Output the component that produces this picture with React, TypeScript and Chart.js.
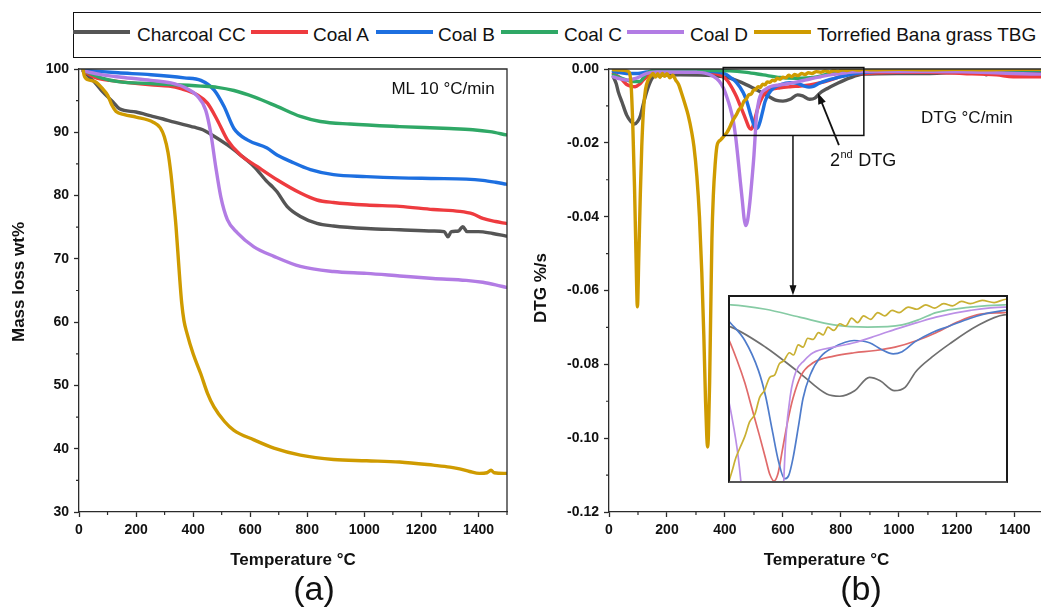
import React, { useEffect, useRef } from 'react';
import { Chart, registerables } from 'chart.js';

Chart.register(...registerables);

const FONT = '"Liberation Sans", Arial, Helvetica, sans-serif';
const AXIS = '#2b2b2b';
const TEXT = '#111111';

const seriesNames = ['Charcoal CC', 'Coal A', 'Coal B', 'Coal C', 'Coal D', 'Torrefied Bana grass TBG'];
const seriesColors = ['#555555', '#ee3b3f', '#1d6fe0', '#2fa866', '#b27ce4', '#cf9b00'];
const insetColors = ['#6f6f6f', '#e06a6a', '#4f7ccb', '#86cba4', '#bb8fe6', '#c9b032'];

// Axis ticks
const tempTicks = [0, 200, 400, 600, 800, 1000, 1200, 1400];
const tempMinor = [100, 300, 500, 700, 900, 1100, 1300, 1500];
const massTicks = [30, 40, 50, 60, 70, 80, 90, 100];
const massMinor = [35, 45, 55, 65, 75, 85, 95];
const dtgTicks = [-0.12, -0.1, -0.08, -0.06, -0.04, -0.02, 0];
const dtgMinor = [-0.11, -0.09, -0.07, -0.05, -0.03, -0.01];

type Pt = [number, number];

// Mass loss (wt%) versus temperature (°C)
const tgCharcoal: Pt[] = [
  [14, 99.8], [30, 99.0], [55, 97.9], [85, 96.3], [119, 94.8], [142, 93.7], [200, 93.2], [252, 92.6], [295, 92.1],
  [334, 91.6], [404, 90.8], [434, 90.4], [462, 89.7], [520, 88.0], [566, 86.4], [613, 84.6], [659, 82.2], [680, 81.3],
  [694, 80.6], [729, 78.3], [776, 76.7], [834, 75.6], [892, 75.2], [1008, 74.8], [1124, 74.6], [1241, 74.4],
  [1280, 74.3], [1293, 73.5], [1305, 74.3], [1330, 74.4], [1345, 75.1], [1360, 74.3], [1400, 74.3], [1450, 74.0],
  [1497, 73.6],
];
const tgCoalA: Pt[] = [
  [14, 99.7], [50, 98.8], [78, 98.4], [107, 98.2], [180, 97.8], [252, 97.5], [316, 97.3], [357, 96.9], [415, 95.9],
  [450, 94.6], [485, 91.9], [520, 88.8], [566, 86.4], [624, 84.6], [694, 82.5], [776, 80.4], [834, 79.3], [892, 78.9],
  [1008, 78.5], [1124, 78.3], [1241, 77.8], [1334, 77.5], [1380, 77.1], [1415, 76.4], [1460, 75.9], [1497, 75.6],
];
const tgCoalB: Pt[] = [
  [14, 99.8], [137, 99.4], [252, 99.1], [369, 98.6], [427, 98.2], [473, 96.7], [508, 94.1], [543, 90.6],
  [590, 88.8], [659, 87.5], [694, 86.4], [741, 85.4], [811, 84.1], [892, 83.3], [1008, 83.0], [1124, 82.8],
  [1241, 82.7], [1357, 82.6], [1415, 82.4], [1460, 82.1], [1497, 81.8],
];
const tgCoalC: Pt[] = [
  [14, 99.8], [78, 98.6], [137, 98.0], [252, 97.7], [427, 97.3], [485, 97.1], [543, 96.6], [613, 95.6],
  [694, 94.1], [776, 92.5], [846, 91.7], [950, 91.3], [1124, 90.9], [1299, 90.6], [1380, 90.4], [1440, 90.1],
  [1497, 89.6],
];
const tgCoalD: Pt[] = [
  [14, 99.7], [78, 99.1], [148, 98.7], [252, 98.2], [322, 97.8], [369, 97.1], [415, 95.7], [444, 93.5],
  [462, 89.8], [479, 84.6], [497, 79.8], [520, 76.2], [555, 74.1], [613, 71.9], [683, 70.4], [776, 68.8],
  [892, 68.0], [1008, 67.7], [1124, 67.3], [1241, 66.9], [1357, 66.6], [1415, 66.3], [1460, 65.9], [1497, 65.5],
];
const tgTBG: Pt[] = [
  [14, 100], [18, 99.0], [24, 98.5], [32, 98.3], [60, 97.9], [80, 97.0], [101, 95.8], [115, 94.3],
  [130, 93.3], [159, 92.8], [200, 92.4], [260, 91.6], [285, 90.7], [299, 89.3], [312, 86.8], [322, 83.5],
  [331, 79.5], [340, 75.1], [352, 67.5], [360, 63.0], [368, 60.2], [378, 58.3], [400, 55.0], [427, 51.8],
  [450, 48.8], [473, 46.6], [510, 44.3], [543, 42.9], [613, 41.4], [683, 40.1], [776, 39.0], [892, 38.3],
  [1008, 38.1], [1124, 37.9], [1241, 37.4], [1300, 37.1], [1334, 36.8], [1369, 36.4], [1403, 36.1],
  [1430, 36.2], [1444, 36.6], [1455, 36.2], [1497, 36.1],
];

// Derivative mass loss (%/s) versus temperature (°C)
const dtgCharcoal: Pt[] = [
  [15, -0.0021], [25, -0.004], [32, -0.0062], [45, -0.009], [61, -0.0125], [75, -0.0142], [88, -0.0149],
  [99, -0.0142], [109, -0.0125], [120, -0.009], [134, -0.0052], [150, -0.0024], [165, -0.0018], [245, -0.0016],
  [360, -0.0018], [417, -0.0025], [475, -0.0043], [532, -0.0066], [578, -0.0085], [600, -0.0087],
  [625, -0.0082], [650, -0.007], [668, -0.0073], [692, -0.0082], [710, -0.0079], [728, -0.0065],
  [755, -0.0052], [785, -0.004], [831, -0.0024], [877, -0.0014], [992, -0.0012], [1107, -0.0012],
  [1222, -0.0009], [1290, -0.001], [1302, -0.0016], [1315, -0.0009], [1400, -0.0008], [1490, -0.0007],
];
const dtgCoalA: Pt[] = [
  [15, -0.0012], [40, -0.0025], [61, -0.0042], [78, -0.0047], [90, -0.0048], [104, -0.0042], [118, -0.003],
  [140, -0.0015], [164, -0.0007], [302, -0.0007], [366, -0.0012], [392, -0.002], [410, -0.0033], [427, -0.0055],
  [440, -0.0075], [452, -0.0098], [465, -0.0123], [475, -0.0143], [482, -0.0157], [489, -0.0163], [496, -0.0156],
  [503, -0.0136], [512, -0.011], [521, -0.0089], [535, -0.0068], [555, -0.0057], [590, -0.0051], [624, -0.0048],
  [660, -0.0046], [693, -0.0043], [730, -0.0037], [762, -0.003], [800, -0.002], [831, -0.0014], [877, -0.0012],
  [992, -0.0009], [1100, -0.0009], [1222, -0.0012], [1337, -0.0016], [1394, -0.0021], [1490, -0.0021],
];
const dtgCoalB: Pt[] = [
  [15, -0.0007], [61, -0.0012], [100, -0.0012], [130, -0.0008], [164, -0.0005], [360, -0.0007], [400, -0.0013],
  [417, -0.0022], [440, -0.0037], [463, -0.0064], [475, -0.0087], [486, -0.0117], [497, -0.0146], [507, -0.0161],
  [514, -0.0158], [521, -0.0143], [530, -0.0115], [538, -0.0089], [550, -0.0068], [567, -0.0052], [590, -0.0043],
  [624, -0.0037], [650, -0.0039], [670, -0.0045], [690, -0.0049], [705, -0.0047], [727, -0.0038], [755, -0.003],
  [785, -0.0024], [820, -0.0017], [854, -0.0012], [992, -0.0005], [1490, -0.0003],
];
const dtgCoalC: Pt[] = [
  [15, -0.0016], [40, -0.0024], [61, -0.003], [85, -0.0034], [107, -0.0034], [120, -0.0022], [130, -0.0012],
  [164, -0.0003], [417, -0.0005], [475, -0.0009], [532, -0.0016], [590, -0.0023], [647, -0.0025], [705, -0.0023],
  [735, -0.0018], [762, -0.0012], [820, -0.0007], [877, -0.0005], [1490, -0.0003],
];
const dtgCoalD: Pt[] = [
  [15, -0.0021], [40, -0.0027], [61, -0.003], [95, -0.0025], [130, -0.0012], [164, -0.0008], [302, -0.0009],
  [331, -0.0011], [360, -0.002], [380, -0.0033], [395, -0.0052], [406, -0.0075], [418, -0.0105], [429, -0.0142],
  [437, -0.0185], [446, -0.025], [453, -0.0305], [460, -0.0358], [466, -0.0405], [471, -0.0424], [478, -0.041],
  [486, -0.036], [493, -0.03], [500, -0.0233], [505, -0.017], [509, -0.0125], [517, -0.0085], [526, -0.0065],
  [540, -0.0055], [555, -0.0048], [590, -0.0043], [624, -0.0039], [660, -0.0033], [693, -0.0027], [730, -0.0021],
  [762, -0.0016], [820, -0.001], [877, -0.0007], [1107, -0.0007], [1250, -0.0008], [1394, -0.0012], [1490, -0.0014],
];
const dtgTBG: Pt[] = [
  [15, -0.0002], [40, -0.0003], [65, -0.0006], [75, -0.003], [82, -0.015], [88, -0.032], [93, -0.05],
  [98, -0.0644], [103, -0.05], [108, -0.034], [113, -0.021], [119, -0.011], [126, -0.0055], [135, -0.003],
  [145, -0.0018], [152, -0.0012], [160, -0.0022], [168, -0.0013], [176, -0.0023], [184, -0.0012], [192, -0.002],
  [200, -0.0013], [210, -0.0024], [220, -0.0017], [230, -0.003], [240, -0.0042], [252, -0.007], [262, -0.0095],
  [273, -0.0125], [285, -0.017], [293, -0.021], [303, -0.029], [312, -0.04], [320, -0.055], [327, -0.072],
  [333, -0.09], [337, -0.099], [340, -0.1024], [343, -0.099], [347, -0.085], [351, -0.065], [355, -0.046],
  [360, -0.034], [366, -0.026], [372, -0.021], [378, -0.0197], [385, -0.0192], [392, -0.0186], [398, -0.018],
  [406, -0.0173], [412, -0.0165], [418, -0.0155], [425, -0.0142], [432, -0.0133], [440, -0.0123], [448, -0.011],
  [457, -0.0103], [465, -0.0088], [473, -0.0082], [482, -0.007], [490, -0.0068], [498, -0.0058], [506, -0.0055],
  [515, -0.0048], [522, -0.005], [530, -0.0041], [538, -0.0043], [546, -0.0035], [555, -0.0036], [564, -0.003],
  [572, -0.0032], [580, -0.0025], [590, -0.0028], [600, -0.0022], [610, -0.0024], [620, -0.0017], [630, -0.0021],
  [640, -0.0015], [652, -0.0018], [664, -0.0012], [676, -0.0015], [688, -0.001], [700, -0.0012], [715, -0.0007],
  [730, -0.0009], [745, -0.0005], [760, -0.0008], [775, -0.0004], [790, -0.0006], [805, -0.0002], [820, -0.0004],
  [840, -0.0001], [860, -0.0003], [880, 0.0], [900, -0.0002], [1000, -0.0001], [1100, -0.0002], [1200, -0.0001],
  [1300, -0.0002], [1400, -0.0001], [1490, -0.0001],
];

const tgSeries = [tgCharcoal, tgCoalA, tgCoalB, tgCoalC, tgCoalD, tgTBG];
const dtgSeries = [dtgCharcoal, dtgCoalA, dtgCoalB, dtgCoalC, dtgCoalD, dtgTBG];

// Region of the DTG plot that is enlarged in the inset (temperature, %/s)
const zoomRegion = { t0: 394, t1: 879, v0: 0.0004, v1: -0.018 };
const insetRange = { t0: 415, t1: 880, v0: 0.0002, v1: -0.0163 };

function buildDatasets(series: Pt[][], colors: string[], width: number) {
  return series.map((pts, i) => ({
    label: seriesNames[i],
    data: pts.map(([x, y]) => ({ x, y })),
    borderColor: colors[i],
    backgroundColor: colors[i],
    borderWidth: width,
    pointRadius: 0,
    cubicInterpolationMode: 'monotone' as const,
    fill: false,
    order: series.length - 1 - i,
    borderJoinStyle: 'round' as const,
    borderCapStyle: 'round' as const,
  }));
}

const tickFont = { family: FONT, size: 14, weight: 'bold' as const };

function axisCommon() {
  return {
    border: { display: true, color: AXIS, width: 1.3 },
    grid: {
      display: true,
      drawOnChartArea: false,
      drawTicks: true,
      tickLength: 5,
      tickColor: AXIS,
      tickWidth: 1.3,
    },
  };
}

function drawText(ctx: CanvasRenderingContext2D, s: string, x: number, y: number, font: string, align: CanvasTextAlign = 'left') {
  ctx.font = font;
  ctx.fillStyle = TEXT;
  ctx.textAlign = align;
  ctx.textBaseline = 'alphabetic';
  ctx.fillText(s, x, y);
}

function drawMinor(chart: any, xs: number[], ys: number[]) {
  const { ctx, chartArea: a, scales } = chart;
  ctx.save();
  ctx.strokeStyle = AXIS;
  ctx.lineWidth = 1.2;
  ctx.beginPath();
  xs.forEach((v) => {
    const px = scales.x.getPixelForValue(v);
    if (px > a.right + 0.5) return;
    ctx.moveTo(px, a.bottom);
    ctx.lineTo(px, a.bottom + 3);
  });
  ys.forEach((v) => {
    const py = scales.y.getPixelForValue(v);
    ctx.moveTo(a.left - 3, py);
    ctx.lineTo(a.left, py);
  });
  ctx.stroke();
  ctx.restore();
}

function drawFrame(chart: any, withRight: boolean) {
  const { ctx, chartArea: a } = chart;
  ctx.save();
  ctx.strokeStyle = AXIS;
  ctx.lineWidth = 1.3;
  ctx.beginPath();
  ctx.moveTo(a.left, a.top);
  ctx.lineTo(a.right, a.top);
  if (withRight) ctx.lineTo(a.right, a.bottom);
  ctx.stroke();
  ctx.restore();
}

function drawYTitle(ctx: CanvasRenderingContext2D, s: string, x: number, y: number) {
  ctx.save();
  ctx.translate(x, y);
  ctx.rotate(-Math.PI / 2);
  ctx.font = `bold 17px ${FONT}`;
  ctx.fillStyle = TEXT;
  ctx.textAlign = 'center';
  ctx.textBaseline = 'middle';
  ctx.fillText(s, 0, 0);
  ctx.restore();
}

const tgDecor = {
  id: 'tgDecor',
  afterDraw(chart: any) {
    const { ctx, scales } = chart;
    drawFrame(chart, true);
    drawMinor(chart, tempMinor, massMinor);
    ctx.save();
    drawText(ctx, 'Temperature °C', scales.x.getPixelForValue(750), 565, `bold 17px ${FONT}`, 'center');
    drawYTitle(ctx, 'Mass loss wt%', 19.5, 282);
    drawText(ctx, 'ML 10 °C/min', scales.x.getPixelForValue(1095), scales.y.getPixelForValue(96.05), `17px ${FONT}`);
    drawText(ctx, '(a)', 314, 600, `34px ${FONT}`, 'center');
    ctx.restore();
  },
};

const dtgDecor = {
  id: 'dtgDecor',
  afterDraw(chart: any) {
    const { ctx, scales } = chart;
    const X = (t: number) => scales.x.getPixelForValue(t);
    const Y = (v: number) => scales.y.getPixelForValue(v);
    drawFrame(chart, false);
    drawMinor(chart, tempMinor, dtgMinor);
    ctx.save();
    drawText(ctx, 'Temperature °C', X(750), 565, `bold 17px ${FONT}`, 'center');
    drawYTitle(ctx, 'DTG %/s', 11, 288);
    drawText(ctx, 'DTG °C/min', X(1076), Y(-0.0146), `17px ${FONT}`);

    // enlarged-region box
    ctx.strokeStyle = '#111';
    ctx.lineWidth = 1.5;
    const bx0 = X(zoomRegion.t0), bx1 = X(zoomRegion.t1);
    const by0 = Y(zoomRegion.v0), by1 = Y(zoomRegion.v1);
    ctx.strokeRect(bx0, by0, bx1 - bx0, by1 - by0);

    // connector from box to inset
    const cx = X(634.5);
    const tipY = Y(-0.0613);
    ctx.beginPath();
    ctx.moveTo(cx, by1);
    ctx.lineTo(cx, tipY - 8);
    ctx.stroke();
    ctx.fillStyle = '#111';
    ctx.beginPath();
    ctx.moveTo(cx, tipY);
    ctx.lineTo(cx - 3.5, tipY - 10);
    ctx.lineTo(cx + 3.5, tipY - 10);
    ctx.closePath();
    ctx.fill();

    // arrow pointing at the second DTG shoulder
    const ax0 = X(793), ay0 = Y(-0.0206);
    const ax1 = X(720.5), ay1 = Y(-0.0065);
    const ang = Math.atan2(ay1 - ay0, ax1 - ax0);
    ctx.lineWidth = 1.8;
    ctx.beginPath();
    ctx.moveTo(ax0, ay0);
    ctx.lineTo(ax1 - Math.cos(ang) * 8, ay1 - Math.sin(ang) * 8);
    ctx.stroke();
    ctx.beginPath();
    ctx.moveTo(ax1, ay1);
    ctx.lineTo(ax1 - Math.cos(ang) * 11 + Math.sin(ang) * 4, ay1 - Math.sin(ang) * 11 - Math.cos(ang) * 4);
    ctx.lineTo(ax1 - Math.cos(ang) * 11 - Math.sin(ang) * 4, ay1 - Math.sin(ang) * 11 + Math.cos(ang) * 4);
    ctx.closePath();
    ctx.fill();

    const lx = X(762), ly = Y(-0.0263);
    drawText(ctx, '2', lx, ly, `18px ${FONT}`);
    ctx.font = `18px ${FONT}`;
    const w2 = ctx.measureText('2').width;
    drawText(ctx, 'nd', lx + w2 + 0.5, ly - 8, `11px ${FONT}`);
    ctx.font = `11px ${FONT}`;
    const wnd = ctx.measureText('nd').width;
    drawText(ctx, ' DTG', lx + w2 + wnd + 1, ly, `18px ${FONT}`);

    drawText(ctx, '(b)', 331, 600, `34px ${FONT}`, 'center');
    ctx.restore();
  },
};

function tgConfig(): any {
  const c = axisCommon();
  return {
    type: 'line',
    data: { datasets: buildDatasets(tgSeries, seriesColors, 3.4) },
    options: {
      animation: false,
      responsive: false,
      events: [],
      layout: { padding: { top: 69, right: 23, bottom: 0, left: 0 } },
      plugins: { legend: { display: false }, tooltip: { enabled: false } },
      scales: {
        x: {
          type: 'linear', min: 0, max: 1500,
          ...c,
          afterFit: (s: any) => { s.height = 96; },
          ticks: {
            stepSize: 200, includeBounds: false, autoSkip: false, maxRotation: 0,
            padding: 5, color: TEXT, font: tickFont,
            callback: (v: number) => (tempTicks.includes(v) ? String(v) : ''),
          },
        },
        y: {
          type: 'linear', min: 30, max: 100,
          ...c,
          afterFit: (s: any) => { s.width = 79; },
          ticks: {
            stepSize: 10, autoSkip: false, padding: 5, color: TEXT, font: tickFont,
            callback: (v: number) => (massTicks.includes(Math.round(v)) ? String(Math.round(v)) : ''),
          },
        },
      },
    },
    plugins: [tgDecor],
  };
}

function dtgConfig(): any {
  const c = axisCommon();
  return {
    type: 'line',
    data: { datasets: buildDatasets(dtgSeries, seriesColors, 3.4) },
    options: {
      animation: false,
      responsive: false,
      events: [],
      layout: { padding: { top: 69, right: 0, bottom: 0, left: 0 } },
      plugins: { legend: { display: false }, tooltip: { enabled: false } },
      scales: {
        x: {
          type: 'linear', min: 0, max: 1490,
          ...c,
          afterFit: (s: any) => { s.height = 96; },
          ticks: {
            stepSize: 200, includeBounds: false, autoSkip: false, maxRotation: 0,
            padding: 5, color: TEXT, font: tickFont,
            callback: (v: number) => (tempTicks.includes(v) ? String(v) : ''),
          },
        },
        y: {
          type: 'linear', min: -0.12, max: 0,
          ...c,
          afterFit: (s: any) => { s.width = 79; },
          ticks: {
            stepSize: 0.02, autoSkip: false, padding: 5, color: TEXT, font: tickFont,
            callback: (v: number) => {
              const hit = dtgTicks.find((t) => Math.abs(t - v) < 1e-6);
              if (hit === undefined) return '';
              return Math.abs(hit) < 1e-9 ? '0.00' : hit.toFixed(2);
            },
          },
        },
      },
    },
    plugins: [dtgDecor],
  };
}

function insetConfig(): any {
  return {
    type: 'line',
    data: { datasets: buildDatasets(dtgSeries, insetColors, 1.7) },
    options: {
      animation: false,
      responsive: false,
      events: [],
      layout: { padding: 0 },
      plugins: { legend: { display: false }, tooltip: { enabled: false } },
      scales: {
        x: { type: 'linear', display: false, min: insetRange.t0, max: insetRange.t1 },
        y: { type: 'linear', display: false, min: insetRange.v1, max: insetRange.v0 },
      },
    },
  };
}

function ChartCanvas({ make, width, height, style }: { make: () => any; width: number; height: number; style: React.CSSProperties }) {
  const ref = useRef<HTMLCanvasElement>(null);
  useEffect(() => {
    const chart = new Chart(ref.current as HTMLCanvasElement, make());
    return () => chart.destroy();
  }, []);
  return <canvas ref={ref} width={width} height={height} style={{ position: 'absolute', display: 'block', width, height, ...style }} />;
}

const legendLines = [73, 251, 376, 501, 627, 754];
const legendTexts = [137, 313, 438, 564, 690, 817];

export default function App() {
  return (
    <div style={{ position: 'fixed', left: 0, top: 0, width: 1041, height: 608, overflow: 'hidden', background: '#fff', fontFamily: FONT }}>
      <ChartCanvas make={tgConfig} width={530} height={608} style={{ left: 0, top: 0 }} />
      <ChartCanvas make={dtgConfig} width={511} height={608} style={{ left: 530, top: 0 }} />
      <div style={{ position: 'absolute', left: 728, top: 295, width: 276, height: 184, border: '2px solid #1a1a1a', borderBottom: '2px solid #555', background: '#fff' }}>
        <ChartCanvas make={insetConfig} width={276} height={184} style={{ left: 0, top: 0, filter: 'blur(0.45px)' }} />
      </div>
      <div style={{ position: 'absolute', left: 73, top: 12, width: 1000, height: 44, border: '1.3px solid #111', background: '#fff' }} />
      {seriesNames.map((name, i) => (
        <React.Fragment key={name}>
          <div style={{ position: 'absolute', left: legendLines[i], top: 30, width: 57, height: 4, background: seriesColors[i] }} />
          <span style={{ position: 'absolute', left: legendTexts[i], top: 25, fontSize: 19, lineHeight: '19px', color: TEXT, whiteSpace: 'nowrap' }}>{name}</span>
        </React.Fragment>
      ))}
    </div>
  );
}
